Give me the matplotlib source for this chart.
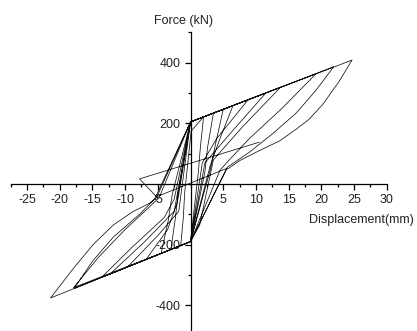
import matplotlib
matplotlib.use("Agg")
import matplotlib.pyplot as plt
from matplotlib.ticker import MultipleLocator

plt.rcParams["font.family"] = ["Liberation Sans", "DejaVu Sans"]
plt.rcParams["axes.unicode_minus"] = False

# hysteresis path, vertices (mm, kN)
disp = [
    10.5, -7.8, -5.2, 5.6, 0, -1.5, -1.1, -0.9, 0.1,
    2.0, 1.5, 1.2, 0, -3.0, -2.3, -1.9, 0,
    3.5, 2.6, 2.2, 0, -4.5, -3.4, -2.8, 0,
    5.0, 3.8, 3.0, 0, -6.8, -3.5, -2.0, 0,
    6.5, 4.5, 3.0, 0, -9.6, -5.0, -1.8, 0,
    8.8, 4.0, 1.8, 0, -12.3, -7.0, -2.5, 0,
    11.5, 6.0, 2.2, 0, -13.6, -9.0, -4.0, -2.5, 0,
    13.8, 8.0, 3.5, 1.4, 0, -17.8, -15.0, -11.8, -7.8, -5.5, 0,
    19.2, 14.0, 9.0, 5.5, 4.5, 0, -21.4, -17.9, -14.9, -11.8, -8.8, -6.3, -5.2, 0,
    21.9, 19.2, 16.2, 12.5, 9.0, 5.6, 0, -17.9, -14.0, -10.0, -6.5, -4.8, 0,
    24.7, 22.7, 20.2, 18.1, 16.1, 13.6, 10.5, 7.5, 5.7,
]
force = [
    138, 17, -42, 52, -190, -203, -110, -30, 175,
    222, 120, 40, -190, -216, -110, -30, 205,
    234, 120, 40, -190, -229, -120, -35, 205,
    246, 130, 45, -190, -249, -150, -60, 205,
    259, 150, 60, -190, -273, -170, -90, 205,
    278, 150, 70, -190, -297, -190, -90, 205,
    300, 165, 70, -190, -308, -210, -110, -50, 205,
    320, 190, 80, -135, -190, -345, -255, -175, -100, -50, 205,
    364, 250, 150, 70, 45, -190, -376, -278, -200, -135, -91, -64, -45, 205,
    387, 310, 235, 165, 105, 55, -190, -342, -240, -150, -80, -45, 205,
    409, 338, 262, 213, 180, 142, 110, 77, 50,
]

xticks = [-25, -20, -15, -10, -5, 5, 10, 15, 20, 25, 30]
yticks = [-400, -200, 200, 400]

fig = plt.figure(figsize=(4.17, 3.31), dpi=100)
ax = fig.add_axes([10.7 / 417, 0, 376 / 417, 1 - 32.5 / 331])

ax.plot(disp, force, color="#111111", lw=0.55)

ax.set_xlim(-27.5, 30)
ax.set_ylim(-485, 500)

for s in ["top", "right"]:
    ax.spines[s].set_visible(False)
ax.spines["left"].set_position(("data", 0))
ax.spines["bottom"].set_position(("data", 0))
ax.spines["left"].set_linewidth(0.9)
ax.spines["bottom"].set_linewidth(0.9)

ax.set_xticks(xticks)
ax.set_yticks(yticks)
ax.xaxis.set_minor_locator(MultipleLocator(2.5))
ax.yaxis.set_minor_locator(MultipleLocator(100))
ax.tick_params(which="major", length=4, width=0.9, labelsize=9,
               labelcolor="#222222", pad=3)
ax.tick_params(which="minor", length=2.5, width=0.9)

fig.text(184 / 417, 1 - 21 / 331, "Force (kN)", ha="center", va="center",
         fontsize=9, color="#222222")
fig.text(309 / 417, 1 - 220 / 331, "Displacement(mm)", ha="left", va="center",
         fontsize=9, color="#222222")

fig.savefig("out.png", dpi=100)
